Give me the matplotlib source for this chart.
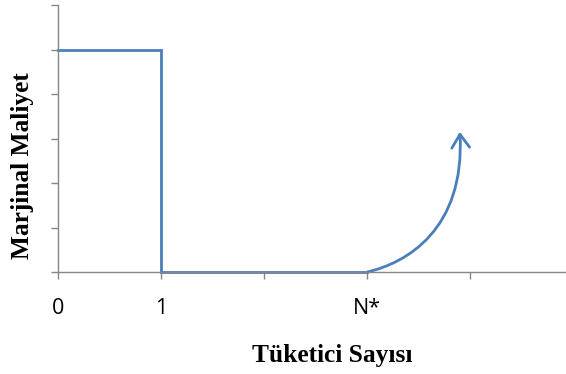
import matplotlib.pyplot as plt
from matplotlib.patches import FancyArrowPatch
from matplotlib.path import Path

# step part of the marginal cost curve
step_x = [0, 1, 1, 3]
step_y = [5, 5, 0, 0]
# rising part after N*: bezier control points
curve_x = [3.0, 3.38, 3.95, 3.90]
curve_y = [0.0, 0.2, 0.95, 3.15]

tick_pos = [0, 1, 2, 3, 4]
tick_labels = ['0', '1', '', 'N*', '']

blue = '#4a7ebb'
grey = '#868686'

fig = plt.figure(figsize=(5.66, 3.74), dpi=100)
ax = fig.add_axes([0.1025, 0.2727, 0.8975, 0.7139])

ax.plot(step_x, step_y, color=blue, lw=2.0, solid_joinstyle='miter', clip_on=False)
curve = Path(list(zip(curve_x, curve_y)),
             [Path.MOVETO, Path.CURVE4, Path.CURVE4, Path.CURVE4])
ax.add_patch(FancyArrowPatch(path=curve, arrowstyle='->,head_length=6,head_width=4',
                             color=blue, lw=2.0, mutation_scale=1.6))

ax.set_xlim(0, 4.93)
ax.set_ylim(0, 6)
ax.set_xticks(tick_pos)
ax.set_xticklabels(tick_labels, fontsize=15.5, family='Open Sans')
ax.set_yticks(range(0, 7))
ax.set_yticklabels([])

for s in ['top', 'right']:
    ax.spines[s].set_visible(False)
for s in ['left', 'bottom']:
    ax.spines[s].set_color(grey)
    ax.spines[s].set_linewidth(1.0)
ax.tick_params(axis='both', color=grey, length=5, width=1.0, direction='out')
ax.tick_params(axis='x', pad=14)

fig.text(0.5866, 0.0508, 'Tüketici Sayısı', fontsize=18.3, fontweight='bold',
         family='Liberation Serif', ha='center', va='center')
fig.text(0.0406, 0.556, 'Marjinal Maliyet', fontsize=18.3, fontweight='bold',
         family='Liberation Serif', ha='center', va='center', rotation=90)

fig.savefig('out.png', dpi=100)
